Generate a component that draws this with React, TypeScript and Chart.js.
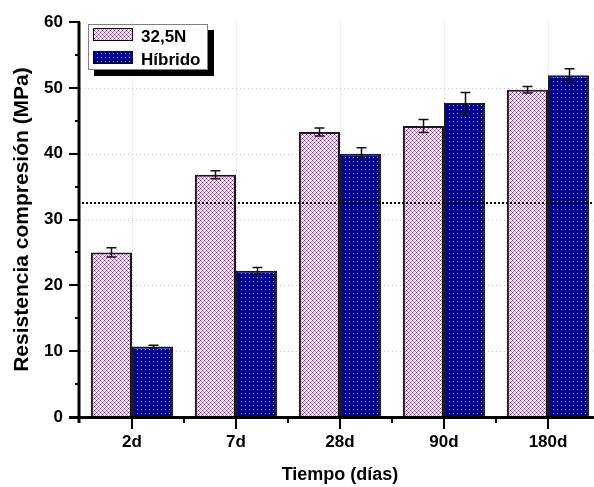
import React, { useEffect, useRef } from 'react';
import { Chart, registerables } from 'chart.js';

Chart.register(...registerables);

const categories = ['2d', '7d', '28d', '90d', '180d'];
const seriesNames = ['32,5N', 'Híbrido'];
const values325N = [25.0, 36.8, 43.3, 44.2, 49.7];
const valuesHibrido = [10.7, 22.2, 40.0, 47.7, 51.9];
const errors325N = [0.7, 0.6, 0.6, 1.0, 0.5];
const errorsHibrido = [0.2, 0.5, 0.9, 1.6, 1.0];
const yMin = 0;
const yMax = 60;
const yStep = 10;
const referenceValue = 32.5;
const xTitle = 'Tiempo (días)';
const yTitle = 'Resistencia compresión (MPa)';

const FONT = '"Liberation Sans", Arial, sans-serif';

function makePinkPattern(): CanvasPattern | string {
  const c = document.createElement('canvas');
  c.width = 4;
  c.height = 4;
  const g = c.getContext('2d');
  if (!g) return '#e0a8e0';
  for (let x = 0; x < 4; x++) {
    for (let y = 0; y < 4; y++) {
      const a = (x + y) % 4 === 0;
      const b = ((x - y) % 4 + 4) % 4 === 0;
      let col = '#fdf2fd';
      if (a && b) col = '#a000a0';
      else if (a || b) col = '#d57ad5';
      g.fillStyle = col;
      g.fillRect(x, y, 1, 1);
    }
  }
  return g.createPattern(c, 'repeat') || '#e0a8e0';
}

function makeBluePattern(): CanvasPattern | string {
  const c = document.createElement('canvas');
  c.width = 4;
  c.height = 4;
  const g = c.getContext('2d');
  if (!g) return '#000090';
  g.fillStyle = '#000090';
  g.fillRect(0, 0, 4, 4);
  g.fillStyle = '#9a9ae0';
  g.fillRect(1, 1, 1, 1);
  return g.createPattern(c, 'repeat') || '#000090';
}

export default function App() {
  const ref = useRef<HTMLCanvasElement>(null);

  useEffect(() => {
    const canvas = ref.current;
    if (!canvas) return;
    const pink = makePinkPattern();
    const blue = makeBluePattern();
    const errs = [errors325N, errorsHibrido];
    const fills = [pink, blue];

    const overlay = {
      id: 'overlay',
      beforeDatasetsDraw(chart: any) {
        const ctx = chart.ctx;
        const { left, right, top, bottom } = chart.chartArea;
        const xs = chart.scales.x;
        const ys = chart.scales.y;
        ctx.save();
        ctx.strokeStyle = '#c4c4c4';
        ctx.lineWidth = 1;
        ctx.setLineDash([1, 3]);
        for (let v = yMin + yStep; v < yMax; v += yStep) {
          const py = Math.round(ys.getPixelForValue(v)) + 0.5;
          ctx.beginPath();
          ctx.moveTo(left, py);
          ctx.lineTo(right, py);
          ctx.stroke();
        }
        categories.forEach((_, i) => {
          const px = Math.round(xs.getPixelForValue(i)) + 0.5;
          ctx.beginPath();
          ctx.moveTo(px, top);
          ctx.lineTo(px, bottom);
          ctx.stroke();
        });
        ctx.restore();
      },
      afterDatasetsDraw(chart: any) {
        const ctx = chart.ctx;
        const { left, right, top, bottom } = chart.chartArea;
        const xs = chart.scales.x;
        const ys = chart.scales.y;
        ctx.save();
        // error bars
        ctx.strokeStyle = '#111';
        ctx.lineWidth = 1.5;
        chart.data.datasets.forEach((ds: any, di: number) => {
          const meta = chart.getDatasetMeta(di);
          meta.data.forEach((bar: any, i: number) => {
            const v = ds.data[i];
            const e = errs[di][i];
            const yt = ys.getPixelForValue(v + e);
            const yb = ys.getPixelForValue(v - e);
            const bx = Math.round(bar.x) + 0.5;
            ctx.beginPath();
            ctx.moveTo(bx, yt);
            ctx.lineTo(bx, yb);
            ctx.moveTo(bx - 5, yt);
            ctx.lineTo(bx + 5, yt);
            ctx.moveTo(bx - 5, yb);
            ctx.lineTo(bx + 5, yb);
            ctx.stroke();
          });
        });
        // reference line
        const ry = ys.getPixelForValue(referenceValue);
        ctx.strokeStyle = '#000';
        ctx.lineWidth = 2;
        ctx.setLineDash([2, 2]);
        ctx.beginPath();
        ctx.moveTo(left + 2, ry);
        ctx.lineTo(right + 20, ry);
        ctx.stroke();
        ctx.setLineDash([]);
        // axes
        ctx.strokeStyle = '#000';
        ctx.lineWidth = 3;
        ctx.beginPath();
        ctx.moveTo(left - 1, top);
        ctx.lineTo(left - 1, bottom + 6);
        ctx.moveTo(left - 11, bottom + 0.5);
        ctx.lineTo(right + 20, bottom + 0.5);
        ctx.stroke();
        ctx.lineWidth = 2;
        ctx.beginPath();
        for (let v = yMin; v <= yMax; v += yStep / 2) {
          const py = Math.round(ys.getPixelForValue(v));
          const major = v % yStep === 0;
          if (v === yMin) continue;
          ctx.moveTo(left - (major ? 11 : 5), py);
          ctx.lineTo(left, py);
        }
        const step = xs.getPixelForValue(1) - xs.getPixelForValue(0);
        categories.forEach((_, i) => {
          const px = Math.round(xs.getPixelForValue(i));
          ctx.moveTo(px, bottom);
          ctx.lineTo(px, bottom + 12);
          const bpx = Math.round(xs.getPixelForValue(i) + step / 2);
          ctx.moveTo(bpx, bottom);
          ctx.lineTo(bpx, bottom + 6);
        });
        ctx.stroke();
        ctx.restore();
      },
      afterDraw(chart: any) {
        const ctx = chart.ctx;
        const { left, top } = chart.chartArea;
        const bx = left + 8;
        const by = top + 2;
        const bw = 120;
        const bh = 46;
        ctx.save();
        ctx.fillStyle = '#000';
        ctx.fillRect(bx + 6, by + 6, bw, bh);
        ctx.fillStyle = '#fff';
        ctx.fillRect(bx, by, bw, bh);
        ctx.strokeStyle = '#808080';
        ctx.lineWidth = 1;
        ctx.strokeRect(bx + 0.5, by + 0.5, bw - 1, bh - 1);
        seriesNames.forEach((name, i) => {
          const sy = by + 4 + i * 23;
          ctx.fillStyle = fills[i] as any;
          ctx.fillRect(bx + 5, sy, 40, 13);
          ctx.strokeStyle = '#000';
          ctx.strokeRect(bx + 5.5, sy + 0.5, 39, 12);
          ctx.fillStyle = '#000';
          ctx.font = `bold 17px ${FONT}`;
          ctx.textBaseline = 'alphabetic';
          ctx.textAlign = 'left';
          ctx.fillText(name, bx + 53, sy + 14);
        });
        ctx.restore();
      },
    };

    const chart = new Chart(canvas, {
      type: 'bar',
      data: {
        labels: categories,
        datasets: [
          {
            label: seriesNames[0],
            data: values325N,
            backgroundColor: pink as any,
            borderColor: '#1a1a1a',
            borderWidth: 2,
            categoryPercentage: 0.79,
            barPercentage: 1,
          },
          {
            label: seriesNames[1],
            data: valuesHibrido,
            backgroundColor: blue as any,
            borderColor: '#1a1a1a',
            borderWidth: 2,
            categoryPercentage: 0.79,
            barPercentage: 1,
          },
        ],
      },
      options: {
        responsive: false,
        animation: false,
        devicePixelRatio: 1,
        layout: { padding: { top: 22, right: 10, left: 0, bottom: 0 } },
        plugins: {
          legend: { display: false },
          tooltip: { enabled: false },
        },
        scales: {
          x: {
            type: 'category',
            grid: { display: false, drawTicks: false },
            border: { display: false },
            ticks: {
              color: '#000',
              font: { family: FONT, size: 17, weight: 'bold' },
              padding: 15,
              maxRotation: 0,
              autoSkip: false,
            },
            title: {
              display: true,
              text: xTitle,
              color: '#000',
              font: { family: FONT, size: 18, weight: 'bold' },
              padding: { top: 0, bottom: 1 },
            },
            afterFit: (s: any) => {
              s.height = 70;
              s.paddingLeft = 0;
              s.paddingRight = 0;
              s.paddingTop = 0;
              s.paddingBottom = 0;
            },
          },
          y: {
            min: yMin,
            max: yMax,
            grid: { display: false, drawTicks: false },
            border: { display: false },
            ticks: {
              stepSize: yStep,
              color: '#000',
              font: { family: FONT, size: 17, weight: 'bold' },
              padding: 17,
            },
            title: {
              display: true,
              text: yTitle,
              color: '#000',
              font: { family: FONT, size: 21, weight: 'bold' },
              padding: { top: 10, bottom: 0 },
            },
            afterFit: (s: any) => {
              s.width = 80;
              s.paddingLeft = 0;
              s.paddingRight = 0;
              s.paddingTop = 0;
              s.paddingBottom = 0;
            },
          },
        },
      },
      plugins: [overlay],
    });
    return () => chart.destroy();
  }, []);

  return (
    <div
      style={{
        position: 'fixed',
        left: 0,
        top: 0,
        width: 594,
        height: 487,
        overflow: 'hidden',
        background: '#fff',
      }}
    >
      <canvas ref={ref} width={610} height={487} style={{ display: 'block', width: 610, height: 487 }} />
    </div>
  );
}
